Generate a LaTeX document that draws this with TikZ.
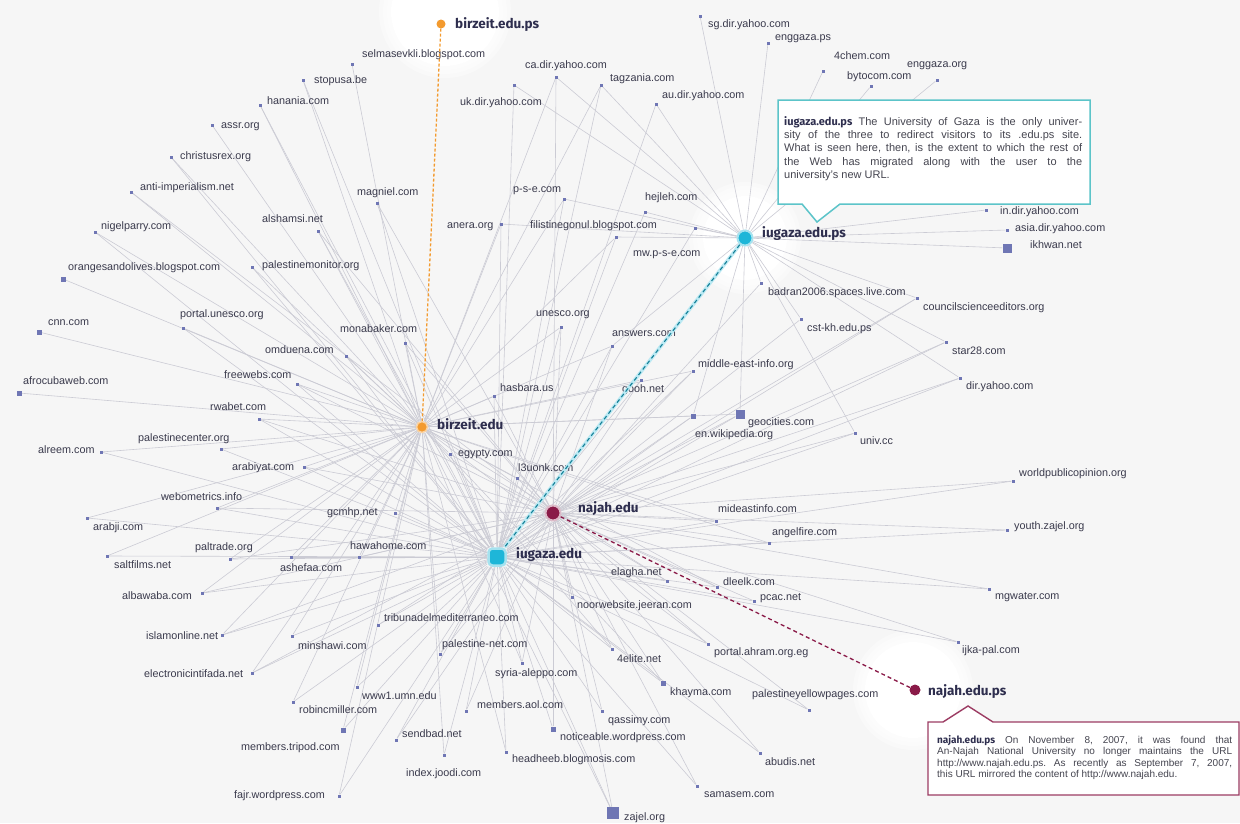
\documentclass[tikz,border=0pt]{standalone}
\usepackage{fontspec}
\setmainfont{Liberation Sans}
\newfontfamily\hubfont{Fira Sans}
\definecolor{bg}{HTML}{F6F6F6}
\definecolor{edgec}{HTML}{CBCBD4}
\definecolor{dotc}{HTML}{6F76B4}
\definecolor{txt}{HTML}{3A3A4C}
\definecolor{hubtxt}{HTML}{2E2E4E}
\definecolor{orng}{HTML}{F39A2E}
\definecolor{cyn}{HTML}{1EB6D8}
\definecolor{marn}{HTML}{8A1A48}
\definecolor{teal}{HTML}{5CC4C9}
\definecolor{calltxt}{HTML}{454550}
\pgfdeclarelayer{background}
\pgfsetlayers{background,main}
\tikzset{
  edge/.style={draw=edgec, line width=0.6pt},
  dot/.style={rectangle, fill=dotc, minimum size=3pt, inner sep=0pt},
  bdot/.style={dot, minimum size=5pt},
  hdot/.style={dot, minimum size=9pt},
  zdot/.style={dot, minimum size=12pt},
  lbl/.style={anchor=mid west, inner sep=0pt, text=txt, font=\fontsize{10.8}{12}\selectfont},
  hublbl/.style={anchor=mid west, inner sep=0pt, text=hubtxt, font=\hubfont\bfseries\fontsize{13.5}{15}\selectfont},
  glow/.style={fill=white, opacity=0.35},
}
\newcommand\mysite[7][dot]{\node[#1] (#2) at (#3,#4) {}; \node[lbl] (l#2) at (#5,#6) {#7};}
\begin{document}
\frenchspacing
\begin{tikzpicture}[x=1pt,y=-1pt]
\useasboundingbox (0,0) rectangle (1240,823);
% hubs
\node[circle, fill=orng, draw=orng!45, line width=1.5pt, minimum size=11pt, inner sep=0pt] (B) at (422,427) {};
\node[hublbl] (lB) at (437,427) {birzeit.edu};
\node[circle, fill=orng, minimum size=9pt, inner sep=0pt] (BP) at (441,24) {};
\node[hublbl] (lBP) at (455,26) {birzeit.edu.ps};
\node[circle, fill=cyn, draw=cyn!40, line width=2pt, minimum size=15pt, inner sep=0pt] (P) at (745,238) {};
\node[hublbl] (lP) at (762,235) {iugaza.edu.ps};
\node[rectangle, rounded corners=4pt, fill=cyn, draw=cyn!40, line width=2.5pt, minimum size=17pt, inner sep=0pt] (G) at (497,557) {};
\node[hublbl] (lG) at (516,556) {iugaza.edu};
\node[circle, fill=marn, draw=marn!30, line width=2pt, minimum size=15pt, inner sep=0pt] (N) at (553,513) {};
\node[hublbl] (lN) at (578,510) {najah.edu};
\node[circle, fill=marn, minimum size=11pt, inner sep=0pt] (NP) at (915,690) {};
\node[hublbl] (lNP) at (928,693) {najah.edu.ps};
% sites
\mysite{selma}{352}{64}{362}{55}{selmasevkli.blogspot.com}
\mysite{stopusa}{303}{80}{314}{81}{stopusa.be}
\mysite{hanania}{260}{105}{267}{102}{hanania.com}
\mysite{assr}{212}{125}{221}{126}{assr.org}
\mysite{christ}{171}{157}{180}{157}{christusrex.org}
\mysite{anti}{131}{192}{140}{188}{anti-imperialism.net}
\mysite{nigel}{95}{232}{101}{227}{nigelparry.com}
\mysite[bdot]{orange}{63}{279}{68}{268}{orangesandolives.blogspot.com}
\mysite{alshamsi}{318}{231}{262}{220}{alshamsi.net}
\mysite{magniel}{377}{203}{357}{193}{magniel.com}
\mysite{palmon}{252}{267}{262}{266}{palestinemonitor.org}
\mysite{punesco}{183}{328}{180}{315}{portal.unesco.org}
\mysite[bdot]{cnn}{39}{332}{48}{323}{cnn.com}
\mysite{mona}{405}{343}{340}{330}{monabaker.com}
\mysite{omduena}{346}{356}{265}{351}{omduena.com}
\mysite{freewebs}{297}{384}{224}{376}{freewebs.com}
\mysite[bdot]{afro}{19}{393}{23}{382}{afrocubaweb.com}
\mysite{rwabet}{259}{419}{210}{408}{rwabet.com}
\mysite{palcenter}{221}{449}{138}{439}{palestinecenter.org}
\mysite{alreem}{101}{452}{38}{451}{alreem.com}
\mysite{arabiyat}{304}{467}{232}{468}{arabiyat.com}
\mysite{webo}{217}{508}{161}{498}{webometrics.info}
\mysite{arabji}{87}{518}{93}{528}{arabji.com}
\mysite{gcmhp}{395}{513}{327}{513}{gcmhp.net}
\mysite{saltfilms}{107}{556}{114}{566}{saltfilms.net}
\mysite{paltrade}{230}{559}{195}{548}{paltrade.org}
\mysite{ashefaa}{291}{557}{280}{569}{ashefaa.com}
\mysite{hawahome}{359}{557}{350}{547}{hawahome.com}
\mysite{albawaba}{202}{593}{122}{597}{albawaba.com}
\mysite{tribuna}{378}{625}{384}{619}{tribunadelmediterraneo.com}
\mysite{islam}{222}{635}{146}{637}{islamonline.net}
\mysite{minshawi}{292}{636}{298}{647}{minshawi.com}
\mysite{eintifada}{252}{673}{144}{675}{electronicintifada.net}
\mysite{umn}{357}{687}{362}{697}{www1.umn.edu}
\mysite{robin}{293}{702}{299}{711}{robincmiller.com}
\mysite[bdot]{tripod}{343}{730}{241}{748}{members.tripod.com}
\mysite{sendbad}{396}{740}{402}{735}{sendbad.net}
\mysite{joodi}{444}{755}{406}{774}{index.joodi.com}
\mysite{fajr}{339}{796}{234}{796}{fajr.wordpress.com}
\mysite{palnet}{440}{654}{442}{645}{palestine-net.com}
\mysite{syria}{522}{663}{495}{674}{syria-aleppo.com}
\mysite{aol}{466}{711}{477}{706}{members.aol.com}
\mysite[bdot]{noticeable}{553}{729}{560}{738}{noticeable.wordpress.com}
\mysite{headheeb}{506}{752}{512}{760}{headheeb.blogmosis.com}
\mysite[zdot]{zajel}{613}{813}{624}{818}{zajel.org}
\mysite{qassimy}{602}{711}{608}{721}{qassimy.com}
\mysite{elite}{612}{649}{617}{660}{4elite.net}
\mysite[bdot]{khayma}{663}{683}{670}{693}{khayma.com}
\mysite{samasem}{697}{786}{704}{795}{samasem.com}
\mysite{abudis}{760}{753}{765}{763}{abudis.net}
\mysite{yellow}{809}{710}{752}{695}{palestineyellowpages.com}
\mysite{ahram}{708}{644}{714}{653}{portal.ahram.org.eg}
\mysite{noor}{572}{597}{577}{606}{noorwebsite.jeeran.com}
\mysite{elagha}{667}{581}{611}{573}{elagha.net}
\mysite{dleelk}{717}{587}{723}{583}{dleelk.com}
\mysite{pcac}{754}{601}{760}{598}{pcac.net}
\mysite{ijka}{958}{642}{962}{651}{ijka-pal.com}
\mysite{mgwater}{989}{589}{995}{597}{mgwater.com}
\mysite{angelfire}{769}{543}{772}{533}{angelfire.com}
\mysite{mideast}{716}{521}{718}{510}{mideastinfo.com}
\mysite{youth}{1007}{530}{1014}{527}{youth.zajel.org}
\mysite{wpo}{1013}{481}{1019}{474}{worldpublicopinion.org}
\mysite{univ}{855}{433}{860}{442}{univ.cc}
\mysite{diryahoo}{960}{378}{966}{387}{dir.yahoo.com}
\mysite{star}{946}{342}{952}{352}{star28.com}
\mysite{council}{917}{298}{923}{308}{councilscienceeditors.org}
\mysite{cstkh}{801}{319}{807}{329}{cst-kh.edu.ps}
\mysite{badran}{761}{283}{768}{293}{badran2006.spaces.live.com}
\mysite[hdot]{geocities}{740}{414}{748}{423}{geocities.com}
\mysite[bdot]{wiki}{693}{416}{695}{435}{en.wikipedia.org}
\mysite{meinfo}{693}{371}{698}{365}{middle-east-info.org}
\mysite{gooh}{641}{380}{622}{390}{gooh.net}
\mysite{answers}{612}{346}{612}{334}{answers.com}
\mysite{unesco}{561}{327}{536}{314}{unesco.org}
\mysite{hasbara}{494}{396}{500}{389}{hasbara.us}
\mysite{egypty}{450}{454}{458}{454}{egypty.com}
\mysite{l3uonk}{517}{478}{518}{469}{l3uonk.com}
\mysite{pse}{564}{199}{513}{190}{p-s-e.com}
\mysite{hejleh}{645}{212}{645}{198}{hejleh.com}
\mysite{anera}{501}{224}{447}{226}{anera.org}
\mysite{filis}{616}{237}{530}{226}{filistinegonul.blogspot.com}
\mysite{mwpse}{695}{228}{633}{254}{mw.p-s-e.com}
\mysite{cadir}{556}{77}{525}{66}{ca.dir.yahoo.com}
\mysite{ukdir}{514}{85}{460}{103}{uk.dir.yahoo.com}
\mysite{tagz}{601}{85}{610}{79}{tagzania.com}
\mysite{audir}{656}{104}{662}{96}{au.dir.yahoo.com}
\mysite{sgdir}{700}{16}{708}{25}{sg.dir.yahoo.com}
\mysite{enggps}{768}{43}{775}{38}{enggaza.ps}
\mysite{chem}{823}{71}{834}{57}{4chem.com}
\mysite{byto}{871}{86}{847}{77}{bytocom.com}
\mysite{enggorg}{937}{80}{907}{65}{enggaza.org}
\mysite{indir}{986}{210}{1000}{212}{in.dir.yahoo.com}
\mysite{asiadir}{1007}{230}{1015}{229}{asia.dir.yahoo.com}
\mysite[hdot]{ikhwan}{1007}{248}{1030}{246}{ikhwan.net}
% background: fill, glows, edges
\begin{pgfonlayer}{background}
\fill[bg] (0,0) rectangle (1240,823);
\fill[white] (BP) ++(4,-12) circle (54);
\fill[white] (P) circle (42);
\fill[white] (NP) ++(-2,0) circle (48);
\foreach \r in {66,62,58} {
  \fill[glow] (BP) ++(4,-12) circle (\r);
  \fill[glow] (P) circle (\r-10);
  \fill[glow] (NP) ++(-2,0) circle (\r-6);
}
\foreach \a in {selma,stopusa,hanania,assr,christ,anti,nigel,orange,alshamsi,palmon,punesco,cnn,mona,omduena,freewebs,afro,rwabet,palcenter,alreem,arabiyat,webo,arabji,gcmhp,saltfilms,paltrade,ashefaa,hawahome,albawaba,islam,minshawi,eintifada,umn,robin,tripod,joodi,fajr,palnet,syria,headheeb,zajel,elite,khayma,ahram,elagha,dleelk,angelfire,mideast,geocities,wiki,meinfo,gooh,answers,unesco,hasbara,egypty,l3uonk,pse,anera,filis,cadir,tagz}
  \draw[edge] (\a) -- (B);
\foreach \a in {stopusa,hanania,christ,nigel,alshamsi,magniel,palmon,punesco,mona,omduena,freewebs,rwabet,palcenter,alreem,arabiyat,webo,arabji,gcmhp,saltfilms,paltrade,ashefaa,hawahome,albawaba,tribuna,islam,minshawi,eintifada,umn,robin,tripod,sendbad,joodi,fajr,palnet,syria,aol,noticeable,headheeb,zajel,qassimy,elite,khayma,samasem,abudis,yellow,ahram,noor,elagha,dleelk,pcac,ijka,mgwater,angelfire,mideast,youth,wpo,univ,diryahoo,star,council,cstkh,geocities,wiki,meinfo,gooh,answers,unesco,hasbara,egypty,l3uonk,pse,hejleh,anera,filis,mwpse,ukdir,tagz,audir}
  \draw[edge] (\a) -- (G);
\foreach \a in {anti,alshamsi,magniel,mona,freewebs,rwabet,arabiyat,webo,paltrade,hawahome,albawaba,tribuna,islam,eintifada,sendbad,palnet,syria,aol,noticeable,zajel,qassimy,elite,khayma,samasem,abudis,yellow,ahram,noor,elagha,dleelk,pcac,ijka,mgwater,angelfire,mideast,youth,wpo,univ,diryahoo,star,council,badran,geocities,wiki,meinfo,gooh,answers,unesco,hasbara,egypty,l3uonk,cadir}
  \draw[edge] (\a) -- (N);
\foreach \a in {univ,diryahoo,star,council,cstkh,badran,geocities,wiki,answers,pse,hejleh,anera,filis,mwpse,cadir,ukdir,tagz,audir,sgdir,enggps,chem,byto,enggorg,indir,asiadir,ikhwan}
  \draw[edge] (\a) -- (P);
\end{pgfonlayer}
% dashed hub links
\draw[orng, line width=1.3pt, dash pattern=on 3pt off 2pt] (BP) -- (B);
\draw[cyn!30, line width=3.5pt] (P) -- (G);
\draw[cyn!70!black, line width=1.1pt, dash pattern=on 4pt off 3pt] (P) -- (G);
\draw[marn, line width=1.3pt, dash pattern=on 4pt off 3pt] (N) -- (NP);
% callouts
\draw[teal, line width=1.5pt, fill=white] (778,100) -- (1090,100) -- (1090,204) -- (840,204) -- (817,222) -- (802,204) -- (778,204) -- cycle;
\node[anchor=north west, inner sep=0pt, text width=298pt, align=justify, text=calltxt,
      font=\fontsize{11}{13.3}\selectfont] (iucall) at (784,116)
 {{\hubfont\bfseries\color{hubtxt}iugaza.edu.ps} The University of Gaza is the only univer-\linebreak
  sity of the three to redirect visitors to its .edu.ps site.\linebreak
  What is seen here, then, is the extent to which the rest of\linebreak
  the Web has migrated along with the user to the\linebreak
  university's new URL.};
\draw[marn!85, line width=1.4pt, fill=white] (928,722) -- (943,722) -- (968,706) -- (993,722) -- (1239,722) -- (1239,795) -- (928,795) -- cycle;
\node[anchor=north west, inner sep=0pt, text width=295pt, align=justify, text=calltxt,
      font=\fontsize{10}{11.5}\selectfont] (najcall) at (937,735)
 {{\hubfont\bfseries\color{hubtxt}najah.edu.ps} On November 8, 2007, it was found that\linebreak
  An-Najah National University no longer maintains the URL\linebreak
  http://www.najah.edu.ps. As recently as September 7, 2007,\linebreak
  this URL mirrored the content of http://www.najah.edu.};
\end{tikzpicture}
\end{document}
